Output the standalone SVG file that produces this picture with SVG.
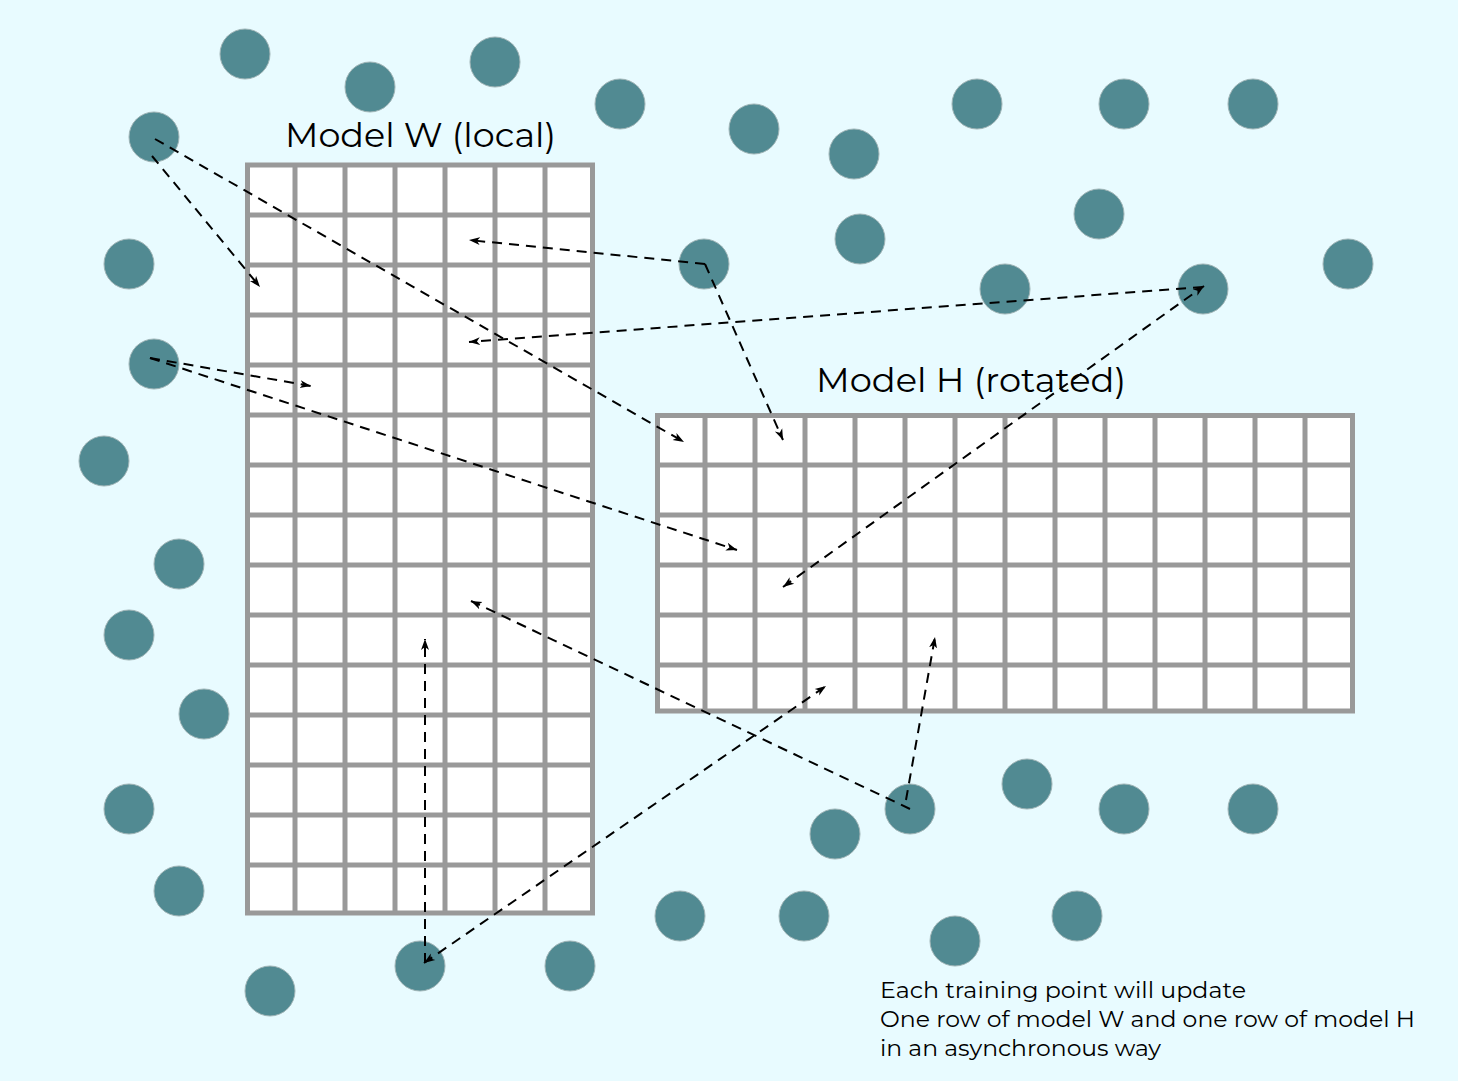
<svg xmlns="http://www.w3.org/2000/svg" width="1458" height="1081" viewBox="0 0 1458 1081">
<style>
.bg{fill:#e8fbff}
.pt{fill:#518a92;stroke:#9fb4b6;stroke-width:1}
.cell{fill:#ffffff;stroke:#999999;stroke-width:5}
.gl{stroke:#999999;stroke-width:5}
.con{fill:none;stroke:#000;stroke-width:2;stroke-dasharray:10 7}
.title{font-family:Montserrat,"Noto Sans","Liberation Sans",sans-serif;font-size:34px;fill:#000}
.note{font-family:Montserrat,"Noto Sans","Liberation Sans",sans-serif;font-size:23px;fill:#000}
</style>
<defs>
<marker id="ah" viewBox="0 -5 12 10" refX="11" refY="0" markerWidth="12" markerHeight="10" markerUnits="userSpaceOnUse" orient="auto-start-reverse">
<path d="M0,-4 L11,0 L0,4 L3,0 z" fill="#000"/>
</marker>
</defs>
<rect class="bg" x="0" y="0" width="1458" height="1081"/>
<g id="modelW">
<rect class="cell" x="247.5" y="165" width="345" height="748"/>
<path class="gl" d="M295,165V913M345,165V913M395,165V913M445,165V913M495,165V913M545,165V913M247.5,215H592.5M247.5,265H592.5M247.5,315H592.5M247.5,365H592.5M247.5,415H592.5M247.5,465H592.5M247.5,515H592.5M247.5,565H592.5M247.5,615H592.5M247.5,665H592.5M247.5,715H592.5M247.5,765H592.5M247.5,815H592.5M247.5,865H592.5"/>
<text class="title" x="285" y="147" textLength="271" lengthAdjust="spacingAndGlyphs">Model W (local)</text>
</g>
<g id="modelH">
<rect class="cell" x="657.5" y="415.5" width="695" height="295.5"/>
<path class="gl" d="M705,415.5V711M755,415.5V711M805,415.5V711M855,415.5V711M905,415.5V711M955,415.5V711M1005,415.5V711M1055,415.5V711M1105,415.5V711M1155,415.5V711M1205,415.5V711M1255,415.5V711M1305,415.5V711M657.5,465H1352.5M657.5,515H1352.5M657.5,565H1352.5M657.5,615H1352.5M657.5,665H1352.5"/>
<text class="title" x="816" y="392" textLength="310" lengthAdjust="spacingAndGlyphs">Model H (rotated)</text>
</g>
<g id="points">
<circle class="pt" cx="245" cy="54" r="25"/>
<circle class="pt" cx="370" cy="87" r="25"/>
<circle class="pt" cx="495" cy="62" r="25"/>
<circle class="pt" cx="620" cy="104" r="25"/>
<circle class="pt" cx="754" cy="129" r="25"/>
<circle class="pt" cx="854" cy="154" r="25"/>
<circle class="pt" cx="977" cy="104" r="25"/>
<circle class="pt" cx="1124" cy="104" r="25"/>
<circle class="pt" cx="1253" cy="104" r="25"/>
<circle class="pt" cx="154" cy="137" r="25"/>
<circle class="pt" cx="129" cy="264" r="25"/>
<circle class="pt" cx="704" cy="264" r="25"/>
<circle class="pt" cx="860" cy="239" r="25"/>
<circle class="pt" cx="1099" cy="214" r="25"/>
<circle class="pt" cx="1005" cy="289" r="25"/>
<circle class="pt" cx="1203" cy="289" r="25"/>
<circle class="pt" cx="1348" cy="264" r="25"/>
<circle class="pt" cx="154" cy="364" r="25"/>
<circle class="pt" cx="104" cy="461" r="25"/>
<circle class="pt" cx="179" cy="564" r="25"/>
<circle class="pt" cx="129" cy="635" r="25"/>
<circle class="pt" cx="204" cy="714" r="25"/>
<circle class="pt" cx="129" cy="809" r="25"/>
<circle class="pt" cx="179" cy="891" r="25"/>
<circle class="pt" cx="270" cy="991" r="25"/>
<circle class="pt" cx="420" cy="966" r="25"/>
<circle class="pt" cx="570" cy="966" r="25"/>
<circle class="pt" cx="680" cy="916" r="25"/>
<circle class="pt" cx="804" cy="916" r="25"/>
<circle class="pt" cx="955" cy="941" r="25"/>
<circle class="pt" cx="1077" cy="916" r="25"/>
<circle class="pt" cx="835" cy="834" r="25"/>
<circle class="pt" cx="910" cy="809" r="25"/>
<circle class="pt" cx="1027" cy="784" r="25"/>
<circle class="pt" cx="1124" cy="809" r="25"/>
<circle class="pt" cx="1253" cy="809" r="25"/>
</g>
<g id="connectors">
<path class="con" d="M155,139L684,442" marker-end="url(#ah)"/>
<path class="con" d="M152,156L260,287" marker-end="url(#ah)"/>
<path class="con" d="M705,264L469,240" marker-end="url(#ah)"/>
<path class="con" d="M705,264L783,440" marker-end="url(#ah)"/>
<path class="con" d="M1203,287L469,342" marker-end="url(#ah)"/>
<path class="con" d="M150,358L311,386" marker-end="url(#ah)"/>
<path class="con" d="M150,358L737,550" marker-end="url(#ah)"/>
<path class="con" d="M783,587L1204,286" marker-start="url(#ah)" marker-end="url(#ah)"/>
<path class="con" d="M910,809L471,601" marker-end="url(#ah)"/>
<path class="con" d="M906,800L935,637" marker-end="url(#ah)"/>
<path class="con" d="M425,963L425,639" marker-end="url(#ah)"/>
<path class="con" d="M424,963L826,686" marker-start="url(#ah)" marker-end="url(#ah)"/>
</g>
<g id="note">
<text class="note" x="880" y="998" textLength="366" lengthAdjust="spacingAndGlyphs">Each training point will update</text>
<text class="note" x="880" y="1027" textLength="535" lengthAdjust="spacingAndGlyphs">One row of model W and one row of model H</text>
<text class="note" x="880" y="1056" textLength="281" lengthAdjust="spacingAndGlyphs">in an asynchronous way</text>
</g>
</svg>
